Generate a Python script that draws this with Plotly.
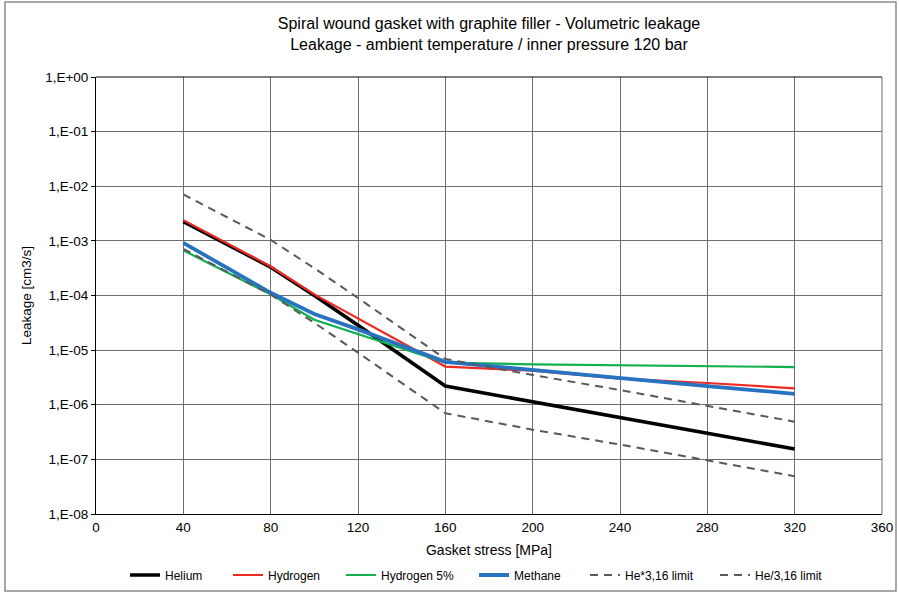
import plotly.graph_objects as go

# ---- data ----
stress = [40, 80, 100, 120, 160, 200, 240, 280, 320]
helium = [2.25e-3, 3.3e-4, 1.0e-4, 2.85e-5, 2.2e-6, 1.12e-6, 5.9e-7, 3.0e-7, 1.55e-7]
hydrogen = [2.4e-3, 3.4e-4, 1.05e-4, 3.8e-5, 5.0e-6, 4.2e-6, 3.0e-6, 2.5e-6, 2.0e-6]
hydrogen5 = [6.7e-4, 1.05e-4, 3.6e-5, 1.95e-5, 5.9e-6, 5.5e-6, 5.3e-6, 5.05e-6, 4.9e-6]
methane = [9.2e-4, 1.12e-4, 4.6e-5, 2.4e-5, 6.1e-6, 4.3e-6, 3.0e-6, 2.2e-6, 1.58e-6]
he_upper = [7.1e-3, 1.04e-3, 3.16e-4, 9.0e-5, 6.9e-6, 3.5e-6, 1.86e-6, 9.5e-7, 4.9e-7]
he_lower = [7.1e-4, 1.04e-4, 3.16e-5, 9.0e-6, 7.0e-7, 3.5e-7, 1.87e-7, 9.5e-8, 4.9e-8]

y_tickvals = [1e-8, 1e-7, 1e-6, 1e-5, 1e-4, 1e-3, 1e-2, 1e-1, 1e0]
y_ticktext = ["1,E-08", "1,E-07", "1,E-06", "1,E-05", "1,E-04", "1,E-03", "1,E-02", "1,E-01", "1,E+00"]
x_tickvals = [0, 40, 80, 120, 160, 200, 240, 280, 320, 360]

FONT = "Liberation Sans, Arial, sans-serif"
W, H = 899, 594
ML, MR, MT, MB = 96, 17, 77, 80

series = [
    ("Helium", helium, "#000000", 3.5, "solid"),
    ("Hydrogen", hydrogen, "#ee2a22", 2.2, "solid"),
    ("Hydrogen 5%", hydrogen5, "#12b04e", 2.2, "solid"),
    ("Methane", methane, "#2872c2", 3.8, "solid"),
    ("He*3,16 limit", he_upper, "#595959", 2.0, "8px,6px"),
    ("He/3,16 limit", he_lower, "#595959", 2.0, "8px,6px"),
]
legend_x_px = [130, 233, 346, 479, 590, 720]

fig = go.Figure()
legends = {}
for i, (name, ys, col, w, dash) in enumerate(series):
    key = "legend" if i == 0 else f"legend{i + 1}"
    fig.add_trace(go.Scatter(x=stress, y=ys, name=name, mode="lines", legend=key,
                             line=dict(color=col, width=w, dash=dash)))
    legends[key] = dict(orientation="h", xref="container", yref="container",
                        x=(legend_x_px[i] - 5) / W, xanchor="left",
                        y=(H - 575) / H, yanchor="middle",
                        font=dict(size=12, family=FONT), bgcolor="rgba(0,0,0,0)")

pw = W - ML - MR
ph = H - MT - MB
fig.add_shape(type="rect", xref="paper", yref="paper",
              x0=(5 - ML) / pw, x1=(896 - ML) / pw,
              y0=(H - MB - 591) / ph, y1=(H - MB - 2) / ph,
              line=dict(color="#8c8c8c", width=1.5), layer="below")

fig.update_layout(
    width=W, height=H,
    margin=dict(l=ML, r=MR, t=MT, b=MB, autoexpand=False),
    paper_bgcolor="white", plot_bgcolor="white",
    font=dict(family=FONT, size=12, color="#000000"),
    title=dict(text="Spiral wound gasket with graphite filler - Volumetric leakage<br>Leakage - ambient temperature / inner pressure 120 bar",
               x=(ML + pw / 2) / W, xanchor="center", y=1 - 29 / H, yanchor="middle",
               font=dict(size=16, family=FONT)),
    showlegend=True,
    xaxis=dict(range=[0, 360], tickvals=x_tickvals, showgrid=True, gridcolor="#6e6e6e", gridwidth=1,
               showline=True, linecolor="#000000", linewidth=1, automargin=False,
               ticks="outside", ticklen=1, tickcolor="rgba(0,0,0,0)", zeroline=False,
               title=dict(text="Gasket stress [MPa]", font=dict(size=14), standoff=10),
               tickfont=dict(size=13.5)),
    yaxis=dict(type="log", range=[-8, 0], tickvals=y_tickvals, ticktext=y_ticktext,
               showgrid=True, gridcolor="#6e6e6e", gridwidth=1, automargin=False,
               showline=True, linecolor="#000000", linewidth=1,
               ticks="outside", ticklen=4, tickcolor="#000000", zeroline=False,
               title=dict(text="Leakage [cm3/s]", font=dict(size=13.5), standoff=10),
               tickfont=dict(size=13.5)),
    **legends,
)
fig.add_shape(type="line", xref="paper", yref="paper", x0=0, x1=1, y0=1, y1=1,
              line=dict(color="#000000", width=1))
fig.add_shape(type="line", xref="paper", yref="paper", x0=1, x1=1, y0=0, y1=1,
              line=dict(color="#6e6e6e", width=1))

fig.write_html("out.html", config={"displayModeBar": False},
               post_script="document.body.style.margin='0';document.body.style.overflow='hidden';")
